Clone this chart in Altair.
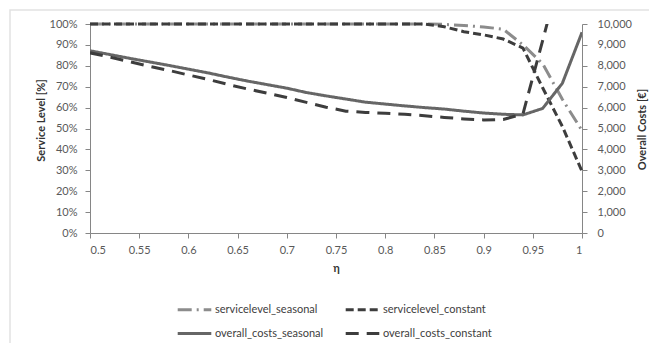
import altair as alt
import pandas as pd

eta = [0.50, 0.52, 0.54, 0.56, 0.58, 0.60, 0.62, 0.64, 0.66, 0.68, 0.70, 0.72, 0.74,
       0.76, 0.78, 0.80, 0.82, 0.84, 0.86, 0.88, 0.90, 0.92, 0.94, 0.96, 0.98, 1.00]

servicelevel_seasonal = [100, 100, 100, 100, 100, 100, 100, 100, 100, 100, 100, 100, 100,
                         100, 100, 100, 100, 100, 99.8, 99.3, 98.6, 97.5, 90, 81, 64, 49]
servicelevel_constant = [100, 100, 100, 100, 100, 100, 100, 100, 100, 100, 100, 100, 100,
                         100, 100, 100, 100, 100, 98.7, 96.3, 94.8, 92.8, 88.5, 69.5, 51, 29.5]
overall_costs_seasonal = [8720, 8540, 8360, 8190, 8020, 7840, 7660, 7460, 7270, 7100, 6930, 6720, 6560,
                          6410, 6260, 6170, 6080, 6000, 5930, 5830, 5740, 5680, 5650, 5960, 7160, 9600]
overall_costs_constant = [8620, 8420, 8200, 7980, 7780, 7560, 7350, 7110, 6890, 6690, 6480, 6250, 6020,
                          5830, 5770, 5730, 5680, 5610, 5530, 5460, 5410, 5430, 5700, 9200, 12800, 16400]

series_names = ["servicelevel_seasonal", "servicelevel_constant",
                "overall_costs_seasonal", "overall_costs_constant"]
series_colors = ["#8c8c8c", "#3d3d3d", "#666666", "#3d3d3d"]
series_dashes = [[14, 5, 2, 5], [8, 4], [1, 0], [13, 8]]

x_ticks = [0.5, 0.55, 0.6, 0.65, 0.7, 0.75, 0.8, 0.85, 0.9, 0.95, 1.0]
sl_ticks = [0, 10, 20, 30, 40, 50, 60, 70, 80, 90, 100]
cost_ticks = [0, 1000, 2000, 3000, 4000, 5000, 6000, 7000, 8000, 9000, 10000]

sl_df = pd.concat([
    pd.DataFrame({"eta": eta, "value": servicelevel_seasonal, "series": series_names[0]}),
    pd.DataFrame({"eta": eta, "value": servicelevel_constant, "series": series_names[1]}),
])
cost_df = pd.concat([
    pd.DataFrame({"eta": eta, "value": overall_costs_seasonal, "series": series_names[2]}),
    pd.DataFrame({"eta": eta, "value": overall_costs_constant, "series": series_names[3]}),
])

FONT = "Lato"
AX = "#868686"
LBL = "#595959"
TTL = "#333333"

legend = alt.Legend(
    title=None, orient="none", legendX=91, legendY=272, columns=2, direction="horizontal",
    symbolType="M-1.4,0H1.4", symbolSize=576, symbolStrokeWidth=3,
    labelFont=FONT, labelFontSize=11, labelColor="#404040",
    labelOffset=7, columnPadding=15, rowPadding=4,
)
color = alt.Color("series:N", scale=alt.Scale(domain=series_names, range=series_colors), legend=legend)
dash = alt.StrokeDash("series:N", scale=alt.Scale(domain=series_names, range=series_dashes), legend=legend)

x = alt.X("eta:Q", scale=alt.Scale(domain=[0.5, 1.0], nice=False, zero=False),
          axis=alt.Axis(title="η", values=x_ticks, format="~g", grid=False,
                        domainColor=AX, tickColor=AX, tickSize=5, labelPadding=6,
                        labelFont=FONT, labelFontSize=11, labelColor=LBL,
                        titleFont=FONT, titleFontSize=11, titleFontWeight="bold", titleColor=TTL,
                        titleY=35, titleBaseline="middle"))

sl = alt.Chart(sl_df).mark_line(strokeWidth=3).encode(
    x=x,
    y=alt.Y("value:Q", scale=alt.Scale(domain=[0, 100], nice=False),
            axis=alt.Axis(orient="left", title="Service Level [%]", values=sl_ticks,
                          labelExpr="datum.value + '%'", grid=False,
                          domainColor=AX, tickColor=AX, tickSize=5, labelPadding=8,
                          labelFont=FONT, labelFontSize=11, labelColor=LBL,
                          titleFont=FONT, titleFontSize=11, titleFontWeight="bold", titleColor=TTL,
                          titleAngle=270, titleX=-49, titleY=96, titleBaseline="middle", titleAlign="center")),
    color=color,
    strokeDash=dash,
    order="eta:Q",
)

cost = alt.Chart(cost_df).mark_line(strokeWidth=3, clip=True).encode(
    x=x,
    y=alt.Y("value:Q", scale=alt.Scale(domain=[0, 10000], nice=False),
            axis=alt.Axis(orient="right", title="Overall Costs [€]", values=cost_ticks,
                          format=",d", grid=False,
                          domainColor=AX, tickColor=AX, tickSize=5, labelPadding=10,
                          labelFont=FONT, labelFontSize=11, labelColor=LBL,
                          titleFont=FONT, titleFontSize=11, titleFontWeight="bold", titleColor=TTL,
                          titleAngle=270, titleX=60, titleY=105, titleBaseline="middle", titleAlign="center")),
    color=color,
    strokeDash=dash,
    order="eta:Q",
)

border = alt.Chart(pd.DataFrame({"k": [0]})).mark_rect(
    fill="transparent", stroke="#e2e2e2", strokeWidth=1.5
).encode(x=alt.value(-80), x2=alt.value(700), y=alt.value(-14), y2=alt.value(400))

chart = alt.layer(sl, cost, border).resolve_scale(
    y="independent", color="shared", strokeDash="shared"
).properties(
    width=492, height=209,
    autosize=alt.AutoSizeParams(type="none"),
    padding={"left": 82, "top": 16, "right": 67, "bottom": 110},
    background="white",
).configure_view(stroke=None)

chart.save("out.html", embed_options={"renderer": "svg", "actions": False})
